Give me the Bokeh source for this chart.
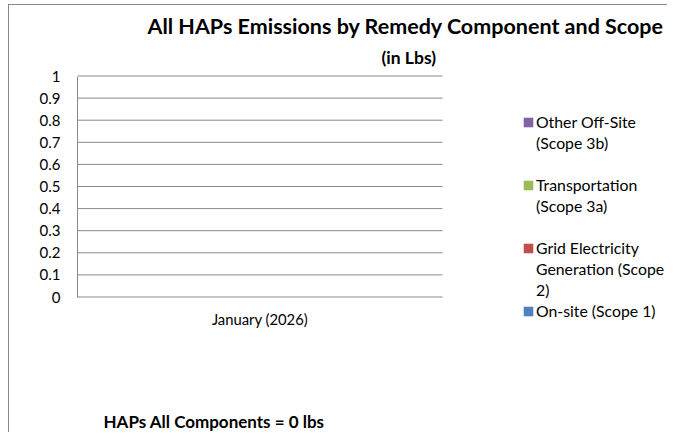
from bokeh.plotting import figure
from bokeh.models import (Title, Legend, LegendItem, Range1d, Label,
                          FixedTicker, NumeralTickFormatter, ColumnDataSource)
from bokeh.core.properties import value
from bokeh.embed import file_html
from bokeh.resources import INLINE

# ---- data ----
categories = ["January (2026)"]
onsite = [0]
grid = [0]
transport = [0]
other = [0]
series_keys = ["onsite", "grid", "transport", "other"]
legend_labels = ["On-site (Scope 1)", "Grid Electricity\nGeneration (Scope\n2)",
                 "Transportation\n(Scope 3a)", "Other Off-Site\n(Scope 3b)"]
colors = ["#4F81BD", "#C0504D", "#9BBB59", "#8064A2"]
y_ticks = [0, 0.1, 0.2, 0.3, 0.4, 0.5, 0.6, 0.7, 0.8, 0.9, 1]
title_line1 = "All HAPs Emissions by Remedy Component and Scope"
title_line2 = "(in Lbs)"
total_lbs = sum(onsite) + sum(grid) + sum(transport) + sum(other)
summary_text = f"HAPs All Components = {total_lbs} lbs"

FONT = "Lato"
GREY = "#898989"

n_cat = len(categories)
cat_x = [i + 0.5 for i in range(n_cat)]
source = ColumnDataSource(dict(x=cat_x, onsite=onsite, grid=grid,
                               transport=transport, other=other))

# plot frame: 590 x 358 px; category band = 365 px, 1.0 in y = 221 px
y_end = 1 + 1.5 / 221
y_start = y_end - 358 / 221
p = figure(frame_width=590, frame_height=358,
           x_range=Range1d(0, 590 / 365), y_range=Range1d(y_start, y_end),
           x_axis_location=None, output_backend="svg", toolbar_location=None,
           min_border_left=68, min_border_right=0, min_border_top=69,
           min_border_bottom=0, title=title_line1)
p.styles = {"margin-left": "8px", "margin-top": "4px",
            "border-left": f"1px solid {GREY}", "border-top": f"1px solid {GREY}"}
p.outline_line_color = None
p.background_fill_color = "white"
p.border_fill_color = "white"
p.xgrid.visible = False
p.ygrid.visible = False

# horizontal gridlines across the category band (the 0 line is the category axis)
p.segment(x0=[0] * len(y_ticks), y0=y_ticks, x1=[n_cat] * len(y_ticks), y1=y_ticks,
          line_color=GREY, line_width=1)

rs = p.vbar_stack(series_keys, x="x", width=0.5, color=colors, line_color=None,
                  source=source)
blank = p.vbar(x=cat_x, top=[0] * n_cat, width=0.5, fill_alpha=0, line_alpha=0)

# category label under the 0 line
p.text(x=cat_x, y=[0] * n_cat, text=categories, text_font=value(FONT),
       text_font_size="14.8px", text_color="black", text_align="center",
       text_baseline="middle", y_offset=22)

# titles
p.title.align = "left"
p.title.offset = 70
p.title.text_font = FONT
p.title.text_font_style = "bold"
p.title.text_font_size = "21.5px"
p.title.text_color = "black"
p.title.standoff = 0
p.add_layout(Title(text=title_line2, align="left", offset=304, text_font=FONT,
                   text_font_style="bold", text_font_size="17.5px",
                   text_color="black", standoff=13), "above")

# y axis
p.yaxis.ticker = FixedTicker(ticks=y_ticks)
p.yaxis.formatter = NumeralTickFormatter(format="0.[0]")
p.yaxis.bounds = (0, 1)
p.yaxis.major_tick_line_color = None
p.yaxis.minor_tick_line_color = None
p.yaxis.major_tick_out = 0
p.yaxis.major_label_standoff = 17
p.yaxis.axis_line_color = GREY
p.yaxis.major_label_text_font = FONT
p.yaxis.major_label_text_font_size = "15px"
p.yaxis.major_label_text_color = "black"

# legend: one row per text line, first line of each entry carries the swatch
rows = []
order = [3, 2, 1, 0]
for k, idx in enumerate(order):
    lines = legend_labels[idx].split("\n")
    for j, line in enumerate(lines):
        rows.append((line, rs[idx] if j == 0 else blank))
    if k < len(order) - 1:
        for _ in range(3 - len(lines)):
            rows.append((" ", blank))
items = [LegendItem(label=t, renderers=[r]) for t, r in rows]
legend = Legend(items=items, location=(445, 111), padding=0, margin=0,
                border_line_color=None, background_fill_alpha=0,
                glyph_width=12, glyph_height=12, label_standoff=2, spacing=0,
                label_height=21, label_text_font=FONT,
                label_text_font_size="15.8px", label_text_color="black")
p.add_layout(legend, "center")

# summary line
p.add_layout(Label(x=26, y=11, x_units="screen", y_units="screen",
                   text=summary_text, text_font=FONT, text_font_style="bold",
                   text_font_size="17px", text_color="black",
                   text_align="left", text_baseline="middle"))

open("out.html", "w").write(file_html(p, INLINE))
